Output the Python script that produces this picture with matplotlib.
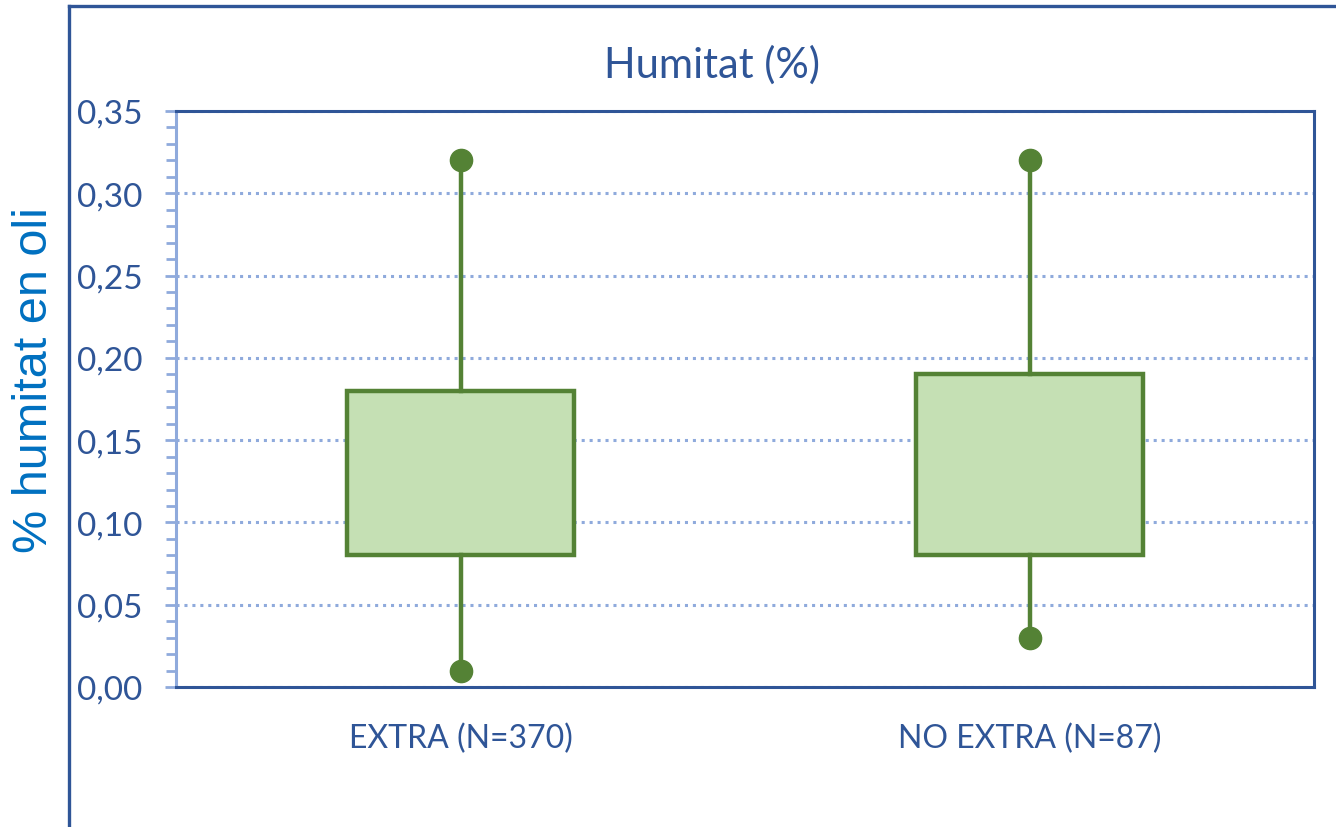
import matplotlib
matplotlib.use("Agg")
import matplotlib.pyplot as plt
from matplotlib.ticker import MultipleLocator, FuncFormatter
from matplotlib.lines import Line2D

# values
categories = ["EXTRA (N=370)", "NO EXTRA (N=87)"]
q1 = [0.08, 0.08]
q3 = [0.18, 0.19]
whislo = [0.01, 0.03]
whishi = [0.32, 0.32]

dark = "#2F5597"
light = "#8FAADC"
green = "#548235"
fill = "#C5E0B4"

plt.rcParams['font.family'] = ['Lato', 'DejaVu Sans']

fig = plt.figure(figsize=(13.36, 8.28), dpi=100)
ax = fig.add_axes([176/1336, 140/828, 1138/1336, 576/828])

stats = []
for i in range(len(categories)):
    stats.append(dict(label=categories[i], q1=q1[i], q3=q3[i], med=q1[i],
                      whislo=whislo[i], whishi=whishi[i], fliers=[]))
positions = list(range(1, len(categories) + 1))
ax.bxp(stats, positions=positions, widths=0.4, patch_artist=True, showfliers=False,
       boxprops=dict(facecolor=fill, edgecolor=green, linewidth=3.2),
       whiskerprops=dict(color=green, linewidth=3.2),
       capprops=dict(linewidth=0),
       medianprops=dict(linewidth=0), zorder=3)
ax.plot(positions, whislo, 'o', color=green, ms=16, zorder=4)
ax.plot(positions, whishi, 'o', color=green, ms=16, zorder=4)

ax.set_xlim(0.5, 2.5)
ax.set_ylim(0, 0.35)
ax.yaxis.set_major_locator(MultipleLocator(0.05))
ax.yaxis.set_minor_locator(MultipleLocator(0.01))
ax.yaxis.set_major_formatter(FuncFormatter(lambda v, p: "{:.2f}".format(v).replace('.', ',')))
ax.grid(axis='y', color=light, linestyle=(0, (1, 1.6)), linewidth=2.2, zorder=0)
ax.set_axisbelow(True)

for s in ['top', 'right', 'bottom']:
    ax.spines[s].set_color(dark)
    ax.spines[s].set_linewidth(2.2)
ax.spines['left'].set_color(light)
ax.spines['left'].set_linewidth(2.2)

ax.tick_params(axis='y', which='major', length=8, width=2, color=light,
               labelcolor=dark, labelsize=24, pad=16)
ax.tick_params(axis='y', which='minor', length=7, width=2, color=light)
ax.tick_params(axis='x', length=0, labelcolor=dark, labelsize=23, pad=26)

fig.text(712/1336, (828-65)/828, "Humitat (%)", ha='center', va='center',
         fontsize=30, color=dark)
fig.text(35/1336, (828-380)/828, "% humitat en oli", ha='center', va='center',
         rotation=90, fontsize=35, color="#0070C0", family=['Liberation Sans'])

# outer chart frame
fig.add_artist(Line2D([69/1336, 69/1336], [(828-7)/828, 0], color=dark, lw=2.4))
fig.add_artist(Line2D([69/1336, 1], [(828-7)/828, (828-7)/828], color=dark, lw=2.4))

fig.savefig("out.png", dpi=100)
